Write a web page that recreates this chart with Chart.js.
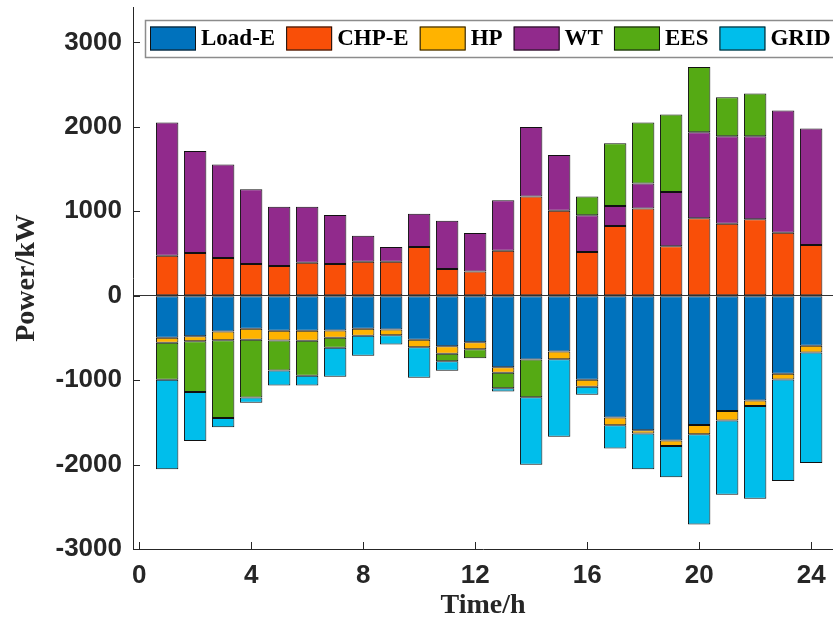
<!DOCTYPE html>
<html>
<head>
<meta charset="utf-8">
<script src="https://cdn.jsdelivr.net/npm/chart.js@4/dist/chart.umd.min.js"></script>
<style>
html,body{margin:0;padding:0;background:#fff;}
#wrap{width:833px;height:625px;position:relative;}
</style>
</head>
<body>
<div id="wrap"><canvas id="c" width="833" height="625"></canvas></div>
<script>
// ---- data ----
const hours = [1,2,3,4,5,6,7,8,9,10,11,12,13,14,15,16,17,18,19,20,21,22,23,24];
const loadE = [-498,-479,-423,-391,-415,-415,-411,-391,-400,-522,-597,-550,-847,-755,-660,-996,-1443,-1594,-1716,-1530,-1364,-1242,-925,-593];
const chpE  = [474,505,446,375,351,391,375,403,403,577,316,288,534,1174,1008,517,825,1032,585,917,854,905,747,600];
const hp    = [-59,-59,-104,-131,-115,-119,-87,-83,-67,-87,-91,-83,-66,0,-92,-83,-92,-39,-63,-111,-115,-63,-68,-79];
const wt    = [1578,1210,1108,886,704,664,581,308,174,395,573,455,596,826,660,435,238,296,644,1020,1035,984,1447,1381];
const ees   = [-439,-601,-920,-684,-356,-415,-119,0,0,0,-87,-107,-183,-447,0,222,743,724,918,771,463,507,0,0];
const grid  = [-1060,-581,-111,-63,-178,-115,-344,-238,-111,-363,-114,0,-39,-799,-917,-95,-276,-423,-372,-1068,-878,-1099,-1201,-1309];
const seriesNames = ['Load-E','CHP-E','HP','WT','EES','GRID'];
const xTicks = [0,4,8,12,16,20,24];
const yTicks = [-3000,-2000,-1000,0,1000,2000,3000];

const colors = ['#0072BD','#F94F08','#FFB300','#912A8C','#55AA14','#00BEEB'];
const seriesVals = [loadE, chpE, hp, wt, ees, grid];

const toPts = arr => hours.map((h,i)=>({x:h, y: arr[i] === 0 ? null : arr[i]}));

const datasets = seriesVals.map((arr,k)=>({
  label: seriesNames[k],
  data: toPts(arr),
  backgroundColor: colors[k],
  borderColor: '#111',
  borderWidth: 1,
  borderSkipped: false,
  categoryPercentage: 1,
  barPercentage: 0.8
}));

const tickFont = {family:'Liberation Sans', weight:'bold', size:26};
const titleFont = {family:'Liberation Serif', weight:'bold', size:28};
const txtColor = '#262626';

const innerTicks = {
  id:'innerTicks',
  afterDatasetsDraw(chart){
    const {ctx, chartArea:a, scales:{x,y}} = chart;
    ctx.save();
    ctx.strokeStyle = '#262626';
    ctx.lineWidth = 1;
    ctx.beginPath();
    yTicks.forEach(v=>{
      const p = Math.round(y.getPixelForValue(v))+0.5;
      ctx.moveTo(a.left, p); ctx.lineTo(a.left+7, p);
    });
    xTicks.forEach(v=>{
      const p = Math.round(x.getPixelForValue(v))+0.5;
      ctx.moveTo(p, a.bottom); ctx.lineTo(p, a.bottom-7);
    });
    ctx.stroke();
    ctx.restore();
  }
};

const boxLegend = {
  id:'boxLegend',
  afterDraw(chart){
    const ctx = chart.ctx;
    const ds = chart.data.datasets;
    ctx.save();
    ctx.font = 'bold 23px "Liberation Serif"';
    const left = 145, top = 20, h = 37, sw = 46, sh = 24, gapT = 5, gapI = 11, padL = 5, padR = 6;
    let w = padL;
    ds.forEach((d,i)=>{ w += sw + gapT + ctx.measureText(d.label).width + (i < ds.length-1 ? gapI : padR); });
    ctx.fillStyle = '#fff';
    ctx.fillRect(left, top, w, h);
    ctx.strokeStyle = '#8c8c8c';
    ctx.lineWidth = 1.5;
    ctx.strokeRect(left+0.5, top+0.5, w, h);
    let xx = left + padL;
    const cy = top + h/2;
    ds.forEach((d,i)=>{
      ctx.fillStyle = d.backgroundColor;
      ctx.fillRect(xx, cy - sh/2, sw, sh);
      ctx.strokeStyle = '#111';
      ctx.lineWidth = 1;
      ctx.strokeRect(xx+0.5, cy - sh/2 + 0.5, sw-1, sh-1);
      xx += sw + gapT;
      ctx.fillStyle = '#000';
      ctx.textBaseline = 'middle';
      ctx.textAlign = 'left';
      ctx.fillText(d.label, xx, cy+1);
      xx += ctx.measureText(d.label).width + gapI;
    });
    ctx.restore();
  }
};

new Chart(document.getElementById('c'), {
  type:'bar',
  data:{datasets},
  options:{
    responsive:false,
    animation:false,
    devicePixelRatio:1,
    layout:{padding:{top:7,right:0,left:0,bottom:0}},
    plugins:{legend:{display:false}, tooltip:{enabled:false}},
    scales:{
      x:{
        type:'linear', stacked:true, offset:false,
        min:-0.22, max:24.78,
        grid:{display:true, offset:false, drawOnChartArea:false, drawTicks:false, color:'transparent', tickLength:0},
        border:{display:true, color:'#262626', width:1},
        ticks:{autoSkip:false, maxRotation:0, padding:11, color:txtColor, font:tickFont, callback:v=>String(v)},
        afterBuildTicks(s){ s.ticks = xTicks.map(v=>({value:v})); },
        title:{display:true, text:'Time/h', color:txtColor, font:titleFont, padding:{top:0,bottom:2}},
        afterFit(s){ s.height = 76; s.paddingLeft = 0; s.paddingRight = 0; }
      },
      y:{
        stacked:true,
        min:-3000, max:3420,
        grid:{drawTicks:false, tickLength:0, color:c=>c.tick && c.tick.value===0 ? '#333' : 'transparent', lineWidth:1},
        border:{display:true, color:'#262626', width:1},
        ticks:{autoSkip:false, padding:11, color:txtColor, font:tickFont, callback:v=>String(v)},
        afterBuildTicks(s){ s.ticks = yTicks.map(v=>({value:v})); },
        title:{display:true, text:'Power/kW', color:txtColor, font:titleFont, padding:{top:10,bottom:0}},
        afterFit(s){ s.width = 133; s.paddingTop = 0; s.paddingBottom = 0; }
      }
    }
  },
  plugins:[innerTicks, boxLegend]
});
</script>
</body>
</html>
